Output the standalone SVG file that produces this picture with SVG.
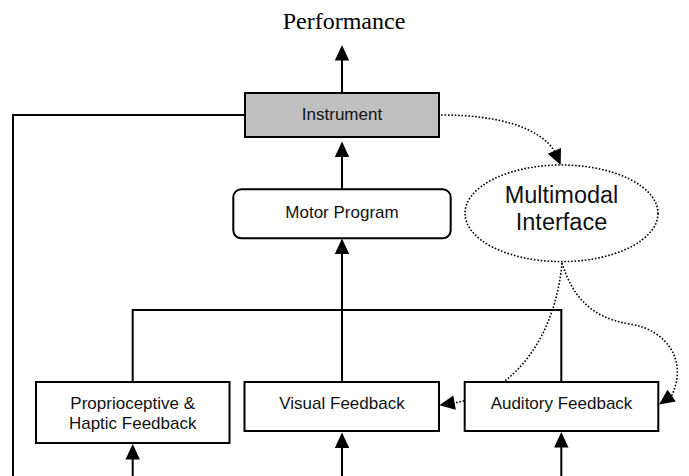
<svg xmlns="http://www.w3.org/2000/svg" xmlns:xlink="http://www.w3.org/1999/xlink" width="689" height="476" viewBox="0 0 689 476">
<style>
.box{fill:#fff;stroke:#000;stroke-width:2}
.gray{fill:#c0c0c0}
.ln{fill:none;stroke:#000;stroke-width:2}
.dot{fill:none;stroke:#000;stroke-width:1.6;stroke-dasharray:1.6 1.8}
.t{font-family:"Liberation Sans",Arial,sans-serif;font-size:17px;fill:#111;text-anchor:middle}
.big{font-size:23.5px}
.serif{font-family:"Liberation Serif","Times New Roman",serif;font-size:24px;fill:#000;text-anchor:middle}
</style>
<defs>
<path id="ah" d="M0,0 L-15.5,-7.2 L-15.5,7.2 Z" fill="#000"/>
</defs>
<rect width="689" height="476" fill="#fff"/>
<g id="connectors">
<line class="ln" x1="342" y1="93" x2="342" y2="58"/>
<use xlink:href="#ah" transform="translate(342,45) rotate(-90)"/>
<line class="ln" x1="342" y1="189" x2="342" y2="155"/>
<use xlink:href="#ah" transform="translate(342,141.5) rotate(-90)"/>
<line class="ln" x1="342" y1="382" x2="342" y2="252"/>
<use xlink:href="#ah" transform="translate(342,238.5) rotate(-90)"/>
<polyline class="ln" points="245,115 13,115 13,476"/>
<polyline class="ln" points="132.7,382 132.7,310 561.3,310 561.3,382"/>
<line class="ln" x1="132.7" y1="476" x2="132.7" y2="457"/>
<use xlink:href="#ah" transform="translate(132.7,444) rotate(-90)"/>
<line class="ln" x1="342" y1="476" x2="342" y2="446"/>
<use xlink:href="#ah" transform="translate(342,432.5) rotate(-90)"/>
<line class="ln" x1="561.3" y1="476" x2="561.3" y2="446"/>
<use xlink:href="#ah" transform="translate(561.3,432) rotate(-90)"/>
<path class="dot" d="M441,115 C500,115 540,128 554.6,151.3"/>
<use xlink:href="#ah" transform="translate(560.7,165) rotate(66)"/>
<path class="dot" d="M562,263 C556,330 520,392 454,403"/>
<use xlink:href="#ah" transform="translate(439.3,405.3) rotate(170)"/>
<path class="dot" d="M562,263 C572,295 590,318 630,324 C668,330 688,362 671.5,396"/>
<use xlink:href="#ah" transform="translate(659,404.5) rotate(145)"/>
</g>
<text class="serif" x="344" y="29">Performance</text>
<g id="instrument">
<rect class="box gray" x="245" y="93" width="194" height="44"/>
<text class="t" x="342" y="120">Instrument</text>
</g>
<g id="motor-program">
<rect class="box" x="233.3" y="189.3" width="217.4" height="49" rx="8"/>
<text class="t" x="342" y="217.5">Motor Program</text>
</g>
<g id="multimodal-interface">
<ellipse class="dot" cx="561.5" cy="213.3" rx="96.5" ry="48.3"/>
<text class="t big" x="561.5" y="202.7">Multimodal</text>
<text class="t big" x="561.5" y="230">Interface</text>
</g>
<g id="proprioceptive">
<rect class="box" x="36" y="382" width="193.5" height="61"/>
<text class="t" x="132.7" y="409.3">Proprioceptive &amp;</text>
<text class="t" x="132.7" y="428.7">Haptic Feedback</text>
</g>
<g id="visual">
<rect class="box" x="244.5" y="382" width="194.5" height="49"/>
<text class="t" x="342" y="408.7">Visual Feedback</text>
</g>
<g id="auditory">
<rect class="box" x="464.7" y="382" width="193.6" height="49"/>
<text class="t" x="561.5" y="408.7">Auditory Feedback</text>
</g>
</svg>
